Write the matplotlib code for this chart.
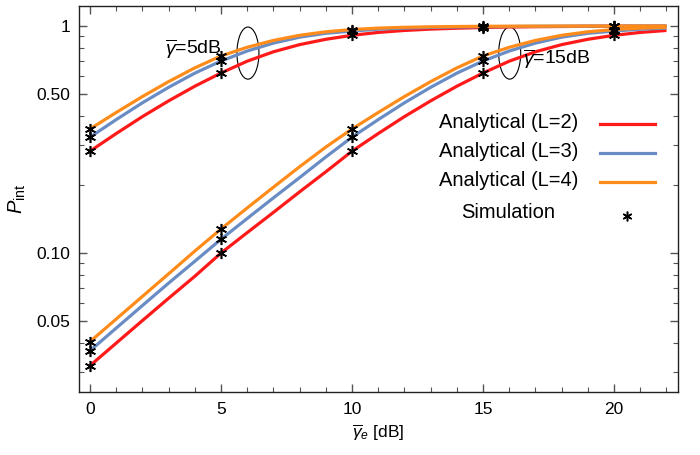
import matplotlib
matplotlib.use("Agg")
import matplotlib.pyplot as plt
from matplotlib.patches import Ellipse
from matplotlib.ticker import FixedLocator, NullFormatter, MultipleLocator
import numpy as np

plt.rcParams["font.family"] = ["Liberation Sans", "DejaVu Sans"]
plt.rcParams["mathtext.fontset"] = "custom"
plt.rcParams["mathtext.rm"] = "Liberation Sans"
plt.rcParams["mathtext.it"] = "Liberation Sans:italic"

# x axis: average eavesdropper SNR [dB]
x_line = list(range(0, 23))
x_sim = [0, 5, 10, 15, 20]

# analytical curves, gamma = 5 dB
up_L2 = [0.281, 0.336, 0.399, 0.468, 0.543, 0.621, 0.700, 0.770, 0.828, 0.874, 0.910, 0.937,
         0.956, 0.969, 0.978, 0.985, 0.990, 0.993, 0.995, 0.997, 0.998, 0.9985, 0.999]
up_L3 = [0.324, 0.387, 0.459, 0.537, 0.620, 0.701, 0.776, 0.841, 0.893, 0.929, 0.950, 0.968,
         0.979, 0.986, 0.990, 0.993, 0.995, 0.997, 0.998, 0.9985, 0.999, 0.9993, 0.9995]
up_L4 = [0.352, 0.416, 0.489, 0.569, 0.654, 0.738, 0.806, 0.864, 0.910, 0.943, 0.965, 0.979,
         0.987, 0.992, 0.995, 0.997, 0.998, 0.9985, 0.999, 0.9993, 0.9995, 0.9997, 0.9998]

# analytical curves, gamma = 15 dB
lo_L2 = [0.0319, 0.0401, 0.0504, 0.0632, 0.079, 0.100, 0.123, 0.151, 0.186, 0.228, 0.281, 0.336,
         0.399, 0.468, 0.543, 0.621, 0.700, 0.770, 0.828, 0.874, 0.910, 0.937, 0.956]
lo_L3 = [0.0371, 0.0467, 0.0587, 0.0737, 0.092, 0.115, 0.142, 0.175, 0.215, 0.265, 0.324, 0.387,
         0.459, 0.537, 0.620, 0.701, 0.776, 0.841, 0.893, 0.929, 0.950, 0.968, 0.979]
lo_L4 = [0.0407, 0.0512, 0.0644, 0.081, 0.102, 0.1276, 0.158, 0.195, 0.240, 0.293, 0.352, 0.416,
         0.489, 0.569, 0.654, 0.738, 0.806, 0.864, 0.910, 0.943, 0.965, 0.979, 0.987]

# simulation points
sim_up_L2 = [0.281, 0.621, 0.91, 0.985, 0.998]
sim_up_L3 = [0.324, 0.701, 0.95, 0.993, 0.999]
sim_up_L4 = [0.352, 0.738, 0.965, 0.997, 0.9998]
sim_lo_L2 = [0.0319, 0.100, 0.281, 0.621, 0.91]
sim_lo_L3 = [0.0371, 0.115, 0.324, 0.701, 0.95]
sim_lo_L4 = [0.0407, 0.1276, 0.352, 0.738, 0.965]

labels = ["Analytical (L=2)", "Analytical (L=3)", "Analytical (L=4)"]
colors = ["#FF1A1A", "#6A8CC4", "#FF8C1A"]

fig = plt.figure(figsize=(7, 4.55), dpi=100)
ax = fig.add_axes([0.1129, 0.1385, 0.8557, 0.8483])

for ys, c in zip([up_L2, up_L3, up_L4], colors):
    ax.plot(x_line, ys, color=c, lw=2.3, solid_capstyle="butt")
for ys, c in zip([lo_L2, lo_L3, lo_L4], colors):
    ax.plot(x_line, ys, color=c, lw=2.3, solid_capstyle="butt")

star = (6, 2, 0)
for ys in [sim_up_L2, sim_up_L3, sim_up_L4, sim_lo_L2, sim_lo_L3, sim_lo_L4]:
    ax.plot(x_sim, ys, linestyle="none", marker=star, color="black", ms=8, mew=1.15)

ax.set_yscale("log")
ax.set_xlim(-0.42, 22.44)
ax.set_ylim(0.02442, 1.225)

ax.xaxis.set_major_locator(FixedLocator([0, 5, 10, 15, 20]))
ax.xaxis.set_minor_locator(MultipleLocator(1))
ax.yaxis.set_major_locator(FixedLocator([0.05, 0.1, 0.5, 1]))
ax.set_yticklabels(["0.05", "0.10", "0.50", "1"])
ax.yaxis.set_minor_formatter(NullFormatter())

ax.tick_params(which="both", direction="in", top=True, right=True, color="#555555",
               labelsize=12.5, labelcolor="black")
ax.tick_params(which="major", length=6, width=1)
ax.tick_params(which="minor", length=3.5, width=0.8)
ax.tick_params(axis="x", pad=7)
ax.tick_params(axis="y", pad=6)
for s in ax.spines.values():
    s.set_color("#222222")
    s.set_linewidth(1.0)

ax.set_xlabel(r"$\overline{\gamma}_e$ [dB]", fontsize=12.5, labelpad=4)
ax.set_ylabel(r"$P_{\rm int}$", fontsize=14.5, labelpad=6)

# ellipses and annotations
for cx in [0.282, 0.719]:
    ax.add_patch(Ellipse((cx, 0.878), 0.0367, 0.135, transform=ax.transAxes,
                         fill=False, ec="black", lw=0.8))
ax.text(0.144, 0.888, r"$\overline{\gamma}$=5dB", transform=ax.transAxes,
        fontsize=14, va="center", ha="left")
ax.text(0.741, 0.862, r"$\overline{\gamma}$=15dB", transform=ax.transAxes,
        fontsize=14, va="center", ha="left")

# legend, drawn by hand
rows = [0.694, 0.619, 0.544]
for lab, c, yy in zip(labels, colors, rows):
    ax.text(0.834, yy + 0.003, lab, transform=ax.transAxes, fontsize=14.5, ha="right", va="center")
    ax.plot([0.870, 0.962], [yy, yy], transform=ax.transAxes, color=c, lw=2.3)
ax.text(0.716, 0.466, "Simulation", transform=ax.transAxes, fontsize=14.5, ha="center", va="center")
ax.plot([0.915], [0.456], transform=ax.transAxes, linestyle="none", marker=star,
        color="black", ms=7, mew=1.1)

fig.savefig("out.png", dpi=100)
